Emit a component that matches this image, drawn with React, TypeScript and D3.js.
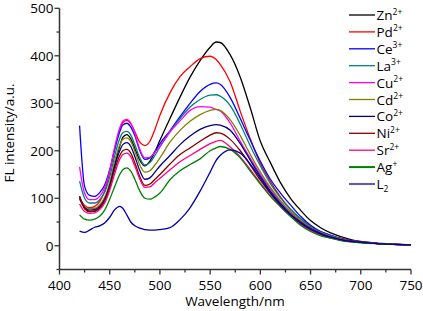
import React from "react";
import * as d3 from "d3";

const wavelengths = [420, 425, 430, 435, 440, 445, 450, 455, 460, 463, 467, 471, 475, 480, 485, 490, 495, 500, 510, 520, 530, 540, 550, 556, 560, 570, 580, 590, 600, 610, 620, 630, 640, 650, 660, 670, 680, 690, 700, 720, 750];

const zn = [104, 80, 72, 73, 80, 95, 125, 170, 210, 228, 234, 225, 205, 180, 168, 178, 198, 222, 268, 313, 355, 390, 418, 429, 428, 402, 355, 290, 220, 175, 133, 100, 75, 53, 38, 27, 19, 13, 9, 5, 2];
const pd = [100, 85, 80, 83, 93, 115, 155, 205, 245, 259, 264, 257, 240, 218, 211, 220, 245, 275, 322, 356, 377, 394, 399, 392, 382, 345, 283, 225, 173, 135, 103, 77, 57, 41, 30, 22, 16, 11, 8, 4, 2];
const ce = [253, 125, 106, 104, 112, 128, 160, 203, 240, 254, 258, 250, 232, 200, 182, 185, 198, 215, 242, 272, 300, 325, 340, 343, 340, 312, 268, 222, 178, 140, 111, 86, 62, 43, 30, 22, 15, 11, 8, 4, 2];
const la = [136, 100, 90, 90, 97, 113, 145, 190, 226, 238, 241, 233, 213, 185, 170, 175, 190, 208, 240, 268, 292, 308, 317, 318, 315, 295, 256, 210, 168, 131, 101, 77, 57, 40, 29, 21, 15, 10, 8, 4, 2];
const cu = [166, 110, 97, 97, 104, 122, 158, 208, 248, 262, 266, 258, 237, 203, 185, 186, 197, 210, 240, 263, 285, 293, 292, 287, 284, 258, 220, 184, 150, 120, 93, 71, 52, 37, 27, 19, 14, 10, 8, 4, 2];
const cd = [98, 82, 78, 79, 86, 102, 133, 178, 212, 224, 227, 219, 199, 170, 155, 158, 170, 185, 218, 243, 262, 276, 285, 287, 285, 265, 232, 192, 155, 123, 95, 72, 53, 38, 27, 19, 14, 10, 8, 4, 2];
const co = [100, 80, 75, 76, 83, 98, 127, 168, 200, 213, 217, 209, 188, 158, 140, 143, 155, 168, 190, 213, 231, 245, 253, 255, 254, 243, 215, 180, 146, 115, 89, 67, 50, 36, 26, 18, 13, 10, 8, 4, 2];
const ni = [104, 78, 72, 73, 80, 95, 122, 160, 190, 200, 203, 195, 175, 145, 127, 130, 140, 150, 172, 192, 206, 220, 233, 238, 237, 224, 200, 170, 138, 110, 85, 64, 47, 34, 24, 17, 12, 9, 7, 4, 2];
const sr = [88, 72, 68, 69, 76, 90, 117, 152, 182, 192, 195, 187, 168, 140, 123, 124, 133, 142, 160, 177, 190, 203, 215, 220, 222, 208, 187, 160, 132, 105, 82, 62, 45, 32, 23, 16, 12, 9, 7, 4, 2];
const ag = [65, 56, 54, 56, 62, 75, 98, 125, 150, 160, 164, 157, 140, 115, 100, 98, 103, 111, 139, 158, 171, 183, 200, 206, 209, 203, 185, 157, 130, 104, 83, 62, 43, 30, 21, 16, 11, 8, 6, 4, 2];
const l2 = [31, 28, 33, 39, 42, 48, 60, 76, 83, 79, 65, 50, 42, 37, 34, 33, 33, 34, 38, 55, 80, 115, 155, 180, 190, 202, 195, 172, 142, 112, 86, 65, 48, 35, 25, 18, 13, 9, 7, 4, 2];

const seriesNames = ["Zn", "Pd", "Ce", "La", "Cu", "Cd", "Co", "Ni", "Sr", "Ag", "L"];
const seriesSups = ["2+", "2+", "3+", "3+", "2+", "2+", "2+", "2+", "2+", "+", ""];
const seriesSubs = ["", "", "", "", "", "", "", "", "", "", "2"];
const seriesValues = [zn, pd, ce, la, cu, cd, co, ni, sr, ag, l2];
const seriesColors = ["#000000", "#ff0000", "#0000ff", "#008080", "#ff00ff", "#808000", "#000080", "#800000", "#ff0080", "#008000", "#0000a0"];

const xTicks = [400, 450, 500, 550, 600, 650, 700, 750];
const xMinor = [425, 475, 525, 575, 625, 675, 725];
const yTicks = [0, 100, 200, 300, 400, 500];
const yMinor = [-50, 50, 150, 250, 350, 450];

const W = 423;
const H = 311;
const FONT = "'Open Sans', 'Liberation Sans', sans-serif";

export default function App() {
  const x = d3.scaleLinear().domain([400, 750]).range([59.5, 411]);
  const y = d3.scaleLinear().domain([-50, 500]).range([269.5, 8.3]);
  const line = d3
    .line<number>()
    .x((_, i) => x(wavelengths[i]))
    .y((v) => y(v))
    .curve(d3.curveMonotoneX);

  const axisColor = "#333";
  const legendX0 = 349;
  const legendX1 = 375;
  const legendY0 = 15;
  const legendDy = 16.9;

  return (
    <svg
      width={W}
      height={H}
      style={{ position: "absolute", left: 0, top: 0, background: "#fff" }}
      fontFamily={FONT}
    >
      {seriesValues.map((vals, i) => (
        <path key={i} d={line(vals) || ""} fill="none" stroke={seriesColors[i]} strokeWidth={1.3} />
      ))}

      {/* axes */}
      <line x1={x(400)} x2={x(400)} y1={y(-50)} y2={y(500)} stroke={axisColor} strokeWidth={1.5} />
      <line x1={x(400)} x2={x(750)} y1={y(-50)} y2={y(-50)} stroke={axisColor} strokeWidth={1.5} />
      {xTicks.map((t) => (
        <g key={"xt" + t}>
          <line x1={x(t)} x2={x(t)} y1={y(-50)} y2={y(-50) + 5} stroke={axisColor} strokeWidth={1.3} />
          <text x={x(t)} y={289.5} textAnchor="middle" fontSize={13.5} fill="#000">
            {t}
          </text>
        </g>
      ))}
      {xMinor.map((t) => (
        <line key={"xm" + t} x1={x(t)} x2={x(t)} y1={y(-50)} y2={y(-50) + 3} stroke={axisColor} strokeWidth={1.3} />
      ))}
      {yTicks.map((t) => (
        <g key={"yt" + t}>
          <line x1={x(400) - 5} x2={x(400)} y1={y(t)} y2={y(t)} stroke={axisColor} strokeWidth={1.3} />
          <text x={53.5} y={y(t) + 5} textAnchor="end" fontSize={13.5} fill="#000">
            {t}
          </text>
        </g>
      ))}
      {yMinor.map((t) => (
        <line key={"ym" + t} x1={x(400) - 3} x2={x(400)} y1={y(t)} y2={y(t)} stroke={axisColor} strokeWidth={1.3} />
      ))}

      <text x={235} y={306} textAnchor="middle" fontSize={13.5} fill="#000">
        Wavelength/nm
      </text>
      <text transform="translate(14,133) rotate(-90)" textAnchor="middle" fontSize={13.5} fill="#000">
        FL intensity/a.u.
      </text>

      {/* legend */}
      {seriesNames.map((name, i) => {
        const ly = legendY0 + i * legendDy;
        return (
          <g key={"lg" + i}>
            <line x1={legendX0} x2={legendX1} y1={ly} y2={ly} stroke={seriesColors[i]} strokeWidth={i === 9 ? 2 : 1.3} />
            <text x={legendX1 + 1.5} y={ly + 5} fontSize={13.5} fill="#000">
              {name}
              {seriesSups[i] && (
                <tspan fontSize={8.5} dy={-5.5}>
                  {seriesSups[i]}
                </tspan>
              )}
              {seriesSubs[i] && (
                <tspan fontSize={8.5} dy={3}>
                  {seriesSubs[i]}
                </tspan>
              )}
            </text>
          </g>
        );
      })}
    </svg>
  );
}
